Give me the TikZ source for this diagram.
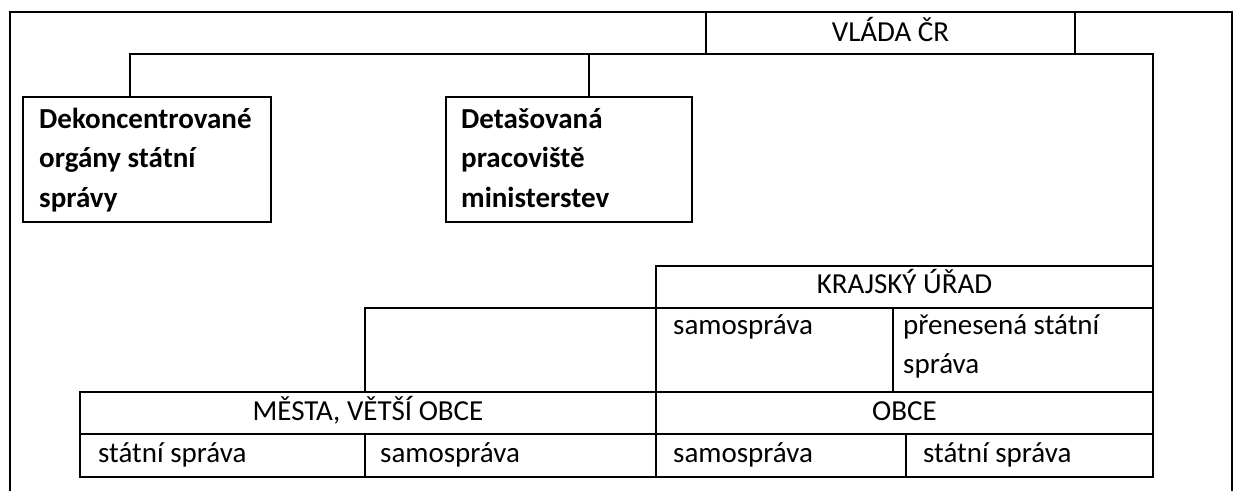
\documentclass[tikz,border=0pt]{standalone}
\usepackage{fontspec}
\setmainfont{Carlito}
\begin{document}
\begin{tikzpicture}[x=1pt,y=-1pt,
  line width=2.4pt,
  box/.style={draw=black, line width=2.4pt, rectangle, inner sep=0pt, outer sep=0pt, anchor=north west},
  txt/.style={inner sep=0pt, font=\fontsize{29}{39.5}\selectfont},
  btxt/.style={inner sep=0pt, align=left, anchor=base west, font=\fontsize{29}{39.5}\selectfont\bfseries}
]
\useasboundingbox (0,0) rectangle (1245,491);
% outer frame
\draw (10,491) -- (10,12) -- (1232,12) -- (1232,491);
% boxes
\node[box, minimum width=369pt, minimum height=42pt] (vlada) at (706,12) {};
\node[box, minimum width=248pt, minimum height=125pt] (dek) at (23,97) {};
\node[box, minimum width=246pt, minimum height=125pt] (det) at (446,97) {};
\node[box, minimum width=497pt, minimum height=42pt] (kraj) at (656,266) {};
\node[box, minimum width=237pt, minimum height=84pt] (ksam) at (656,308) {};
\node[box, minimum width=260pt, minimum height=84pt] (kpren) at (893,308) {};
\node[box, minimum width=291pt, minimum height=84pt] (empty) at (365,308) {};
\node[box, minimum width=576pt, minimum height=42pt] (mesta) at (80,392) {};
\node[box, minimum width=497pt, minimum height=42pt] (obce) at (656,392) {};
\node[box, minimum width=285pt, minimum height=43pt] (mstat) at (80,434) {};
\node[box, minimum width=291pt, minimum height=43pt] (msam) at (365,434) {};
\node[box, minimum width=250pt, minimum height=43pt] (osam) at (656,434) {};
\node[box, minimum width=247pt, minimum height=43pt] (ostat) at (906,434) {};
% connectors
\coordinate (b1) at (130,54);
\coordinate (b2) at (589,54);
\coordinate (b3) at (kraj.north east |- vlada.south);
\draw (b1 |- dek.north) -- (b1) -- (b3) -- (kraj.north east);
\draw (b2) -- (b2 |- det.north);
% texts (multi-line nodes: base = last line)
\node[txt, anchor=base] (tvlada) at (vlada.center |- 0,41) {VLÁDA ČR};
\node[btxt] (tdek) at (38,207) {Dekoncentrované\\orgány státní\\správy};
\node[btxt] (tdet) at (460,207) {Detašovaná\\pracoviště\\ministerstev};
\node[txt, anchor=base] (tkraj) at (kraj.center |- 0,293) {KRAJSKÝ ÚŘAD};
\node[txt, anchor=base west] (tksam) at (672,334) {samospráva};
\node[txt, anchor=base west, align=left] (tkpren) at (902,373.5) {přenesená státní\\správa};
\node[txt, anchor=base] (tmesta) at (mesta.center |- 0,420) {MĚSTA, VĚTŠÍ OBCE};
\node[txt, anchor=base] (tobce) at (obce.center |- 0,420) {OBCE};
\node[txt, anchor=base west] (tmstat) at (97,462) {státní správa};
\node[txt, anchor=base west] (tmsam) at (379,462) {samospráva};
\node[txt, anchor=base west] (tosam) at (672,462) {samospráva};
\node[txt, anchor=base west] (tostat) at (922,462) {státní správa};
\end{tikzpicture}
\end{document}
